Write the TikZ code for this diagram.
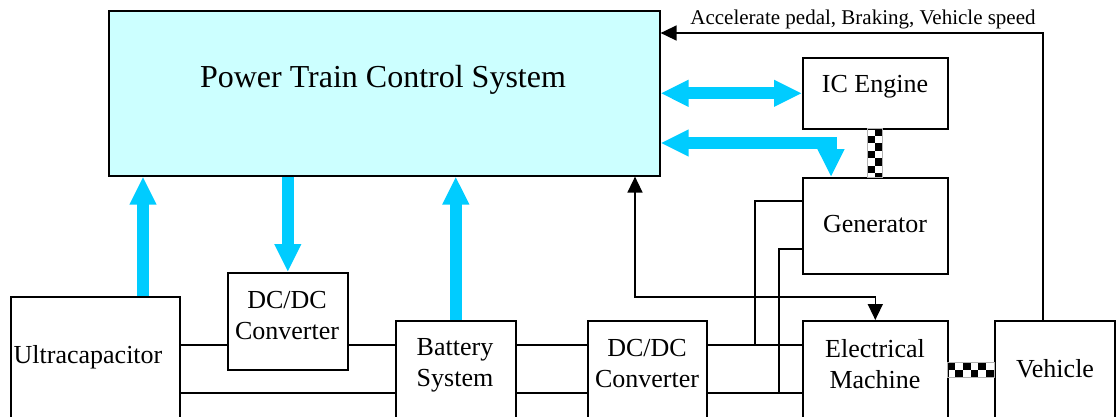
\documentclass[tikz,border=0pt]{standalone}
\usepackage{fontspec}
\setmainfont{Liberation Serif}
\usetikzlibrary{arrows.meta}
\definecolor{ptcsfill}{HTML}{CCFFFF}
\definecolor{flow}{HTML}{00CCFF}
\begin{document}
\begin{tikzpicture}[x=1pt,y=-1pt,
  box/.style={draw,line width=1.6pt,inner sep=0pt,anchor=north west},
  lbl/.style={font=\fontsize{26}{31}\selectfont,align=center,inner sep=0pt},
  wire/.style={line width=1.5pt},
  sigtip/.tip={Triangle[width=15pt,length=16pt]},
  flowtip/.tip={Triangle[width=25pt,length=28pt]},
  flowline/.style={draw=flow,line width=12pt,line join=miter},
]
\clip (0,0) rectangle (1118,416);
\fill[white] (0,0) rectangle (1118,416);

% boxes
\node[box,fill=ptcsfill,minimum width=551pt,minimum height=165pt] (ptcs) at (108,10) {};
\node[box,minimum width=145pt,minimum height=71pt] (ice) at (802,57) {};
\node[box,minimum width=145pt,minimum height=96pt] (gen) at (802,177) {};
\node[box,minimum width=145pt,minimum height=124pt] (em) at (802,320) {};
\node[box,minimum width=120pt,minimum height=124pt] (veh) at (994,320) {};
\node[box,minimum width=169pt,minimum height=148pt] (uc) at (10,296) {};
\node[box,minimum width=120pt,minimum height=97pt] (dc1) at (227,272) {};
\node[box,minimum width=120pt,minimum height=124pt] (bat) at (395,320) {};
\node[box,minimum width=119pt,minimum height=124pt] (dc2) at (587,320) {};

% labels
\node[lbl,font=\fontsize{32}{38}\selectfont] (ptcst) at (383,80) {Power Train Control System};
\node[lbl] (icet) at (875,87) {IC Engine};
\node[lbl] (gent) at (875,224) {Generator};
\node[lbl] (emt) at (875,364) {Electrical\\Machine};
\node[lbl] (veht) at (1055,369) {Vehicle};
\node[lbl] (uct) at (88,357) {Ultracapacitor};
\node[lbl] (dc1t) at (287,316) {DC/DC\\Converter};
\node[lbl] (batt) at (455,365) {Battery\\System};
\node[lbl] (dc2t) at (647,364) {DC/DC\\Converter};

% coordinates for routes
\coordinate (r1) at (0,345);
\coordinate (r2) at (0,393);
\coordinate (g1) at (755,201);
\coordinate (g2) at (779,249);
\coordinate (bend) at (831,143);
\coordinate (sigA) at (635,297);
\coordinate (fb) at (1043,33);
\coordinate (ucup) at (143,0);

% power wires
\draw[wire] (uc.east |- r1) -- (dc1.west |- r1);
\draw[wire] (dc1.east |- r1) -- (bat.west |- r1);
\draw[wire] (uc.east |- r2) -- (bat.west |- r2);
\draw[wire] (bat.east |- r1) -- (dc2.west |- r1);
\draw[wire] (bat.east |- r2) -- (dc2.west |- r2);
\draw[wire] (dc2.east |- r1) -- (em.west |- r1);
\draw[wire] (dc2.east |- r2) -- (em.west |- r2);
\draw[wire] (gen.west |- g1) -- (g1) -- (g1 |- r1);
\draw[wire] (gen.west |- g2) -- (g2) -- (g2 |- r2);

% signal arrows
\draw[wire,{sigtip}-{sigtip}] (sigA |- ptcs.south) -- (sigA) -- (sigA -| em.north) -- (em.north);
\draw[wire,-{sigtip}] (fb |- veh.north) -- (fb) -- (fb -| ptcs.east);
\node[font=\fontsize{21}{24}\selectfont,inner sep=0pt] (fbt) at (863,19) {Accelerate pedal, Braking, Vehicle speed};

% cyan flow arrows
\draw[flowline,{flowtip}-{flowtip}] (ptcs.east |- ice.west) -- (ice.west);
\draw[flowline,{flowtip}-{flowtip}] (ptcs.east |- bend) -- (bend) -- (bend |- gen.north);
\draw[flowline,-{flowtip}] (ucup |- uc.north) -- (ucup |- ptcs.south);
\draw[flowline,-{flowtip}] (dc1.north |- ptcs.south) -- (dc1.north);
\draw[flowline,-{flowtip}] (bat.north) -- (bat.north |- ptcs.south);

% mechanical shafts (checkered)
\begin{scope}
\clip (867,128) rectangle (882,177);
\foreach \i in {0,...,6}{\foreach \j in {0,1}{
  \pgfmathtruncatemacro\k{mod(\i+\j,2)}
  \ifnum\k=1 \fill (867+7.5*\j,128+7.5*\i) rectangle ++(7.5,7.5);\fi}}
\end{scope}
\draw[gray!60,line width=0.6pt] (867,128) rectangle (882,177);
\begin{scope}
\clip (947,362) rectangle (994,377);
\foreach \i in {0,1}{\foreach \j in {0,...,6}{
  \pgfmathtruncatemacro\k{mod(\i+\j,2)}
  \ifnum\k=0 \fill (947+7.83*\j,362+7.5*\i) rectangle ++(7.83,7.5);\fi}}
\end{scope}
\draw[gray!60,line width=0.6pt] (947,362) rectangle (994,377);
\end{tikzpicture}
\end{document}
